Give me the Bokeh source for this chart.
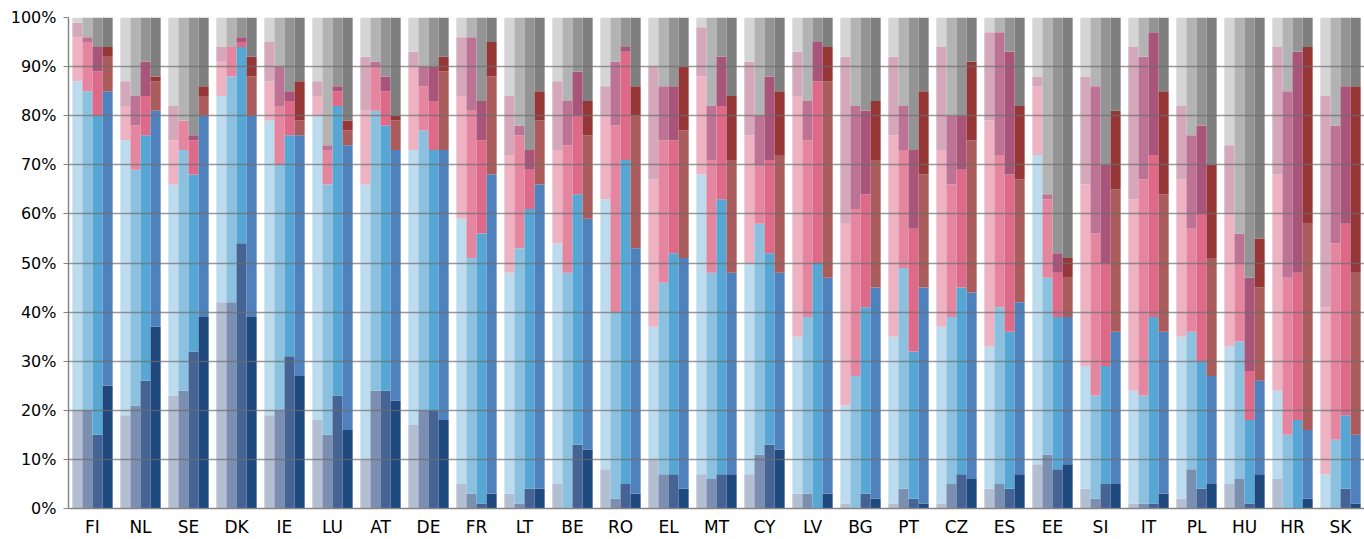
from bokeh.plotting import figure
from bokeh.models import ColumnDataSource, FactorRange, Range1d, SingleIntervalTicker, PrintfTickFormatter
from bokeh.transform import dodge
from bokeh.embed import file_html
from bokeh.resources import INLINE

countries = ["FI", "NL", "SE", "DK", "IE", "LU", "AT", "DE", "FR", "LT", "BE", "RO", "EL", "MT",
             "CY", "LV", "BG", "PT", "CZ", "ES", "EE", "SI", "IT", "PL", "HU", "HR", "SK"]
categories = ["very_good", "fairly_good", "fairly_bad", "very_bad", "dont_know"]

# Wave 1
very_good_w1 = [20, 19, 23, 42, 19, 18, 10, 17, 5, 3, 5, 8, 10, 7, 7, 3, 1, 1, 1, 4, 9, 4, 1, 2, 5, 6, 0]
fairly_good_w1 = [67, 56, 43, 42, 60, 62, 56, 56, 54, 45, 49, 55, 27, 61, 43, 32, 20, 34, 36, 29, 63, 25, 23, 33, 28, 18, 7]
fairly_bad_w1 = [9, 7, 9, 7, 8, 4, 15, 17, 25, 24, 19, 17, 30, 20, 26, 49, 37, 41, 36, 46, 14, 37, 39, 32, 27, 44, 34]
very_bad_w1 = [3, 5, 7, 3, 8, 3, 11, 3, 12, 12, 14, 6, 23, 10, 15, 9, 34, 16, 21, 18, 2, 22, 31, 15, 14, 26, 43]
dont_know_w1 = [1, 13, 18, 6, 5, 13, 8, 7, 4, 16, 13, 14, 10, 2, 9, 7, 8, 8, 6, 3, 12, 12, 6, 18, 26, 6, 16]

# Wave 2
very_good_w2 = [20, 21, 24, 42, 20, 15, 24, 20, 3, 1, 0, 2, 7, 6, 11, 3, 0, 4, 5, 5, 11, 2, 1, 8, 6, 0, 0]
fairly_good_w2 = [65, 48, 49, 46, 50, 51, 57, 57, 48, 52, 48, 38, 39, 42, 47, 36, 27, 45, 34, 36, 36, 21, 22, 28, 28, 15, 14]
fairly_bad_w2 = [10, 9, 6, 6, 12, 7, 9, 9, 30, 23, 26, 38, 29, 23, 12, 36, 34, 24, 27, 31, 16, 33, 44, 21, 16, 32, 40]
very_bad_w2 = [1, 6, 0, 0, 8, 1, 1, 4, 15, 2, 9, 13, 11, 11, 10, 8, 21, 9, 14, 25, 1, 30, 25, 19, 6, 38, 24]
dont_know_w2 = [4, 16, 21, 6, 10, 26, 9, 10, 4, 22, 17, 9, 14, 18, 20, 17, 18, 18, 20, 3, 36, 14, 8, 24, 44, 15, 22]

# Wave 3
very_good_w3 = [15, 26, 32, 54, 31, 23, 24, 20, 1, 4, 13, 5, 7, 7, 13, 0, 3, 2, 7, 4, 8, 5, 1, 4, 1, 0, 4]
fairly_good_w3 = [65, 50, 36, 40, 45, 59, 54, 53, 55, 57, 51, 66, 45, 56, 39, 50, 38, 30, 38, 32, 31, 24, 38, 26, 17, 18, 15]
fairly_bad_w3 = [9, 8, 7, 1, 7, 3, 7, 10, 19, 8, 16, 22, 23, 19, 19, 37, 23, 25, 24, 32, 9, 21, 33, 30, 10, 30, 39]
very_bad_w3 = [5, 7, 1, 1, 2, 1, 3, 7, 8, 4, 9, 1, 11, 10, 17, 8, 17, 16, 11, 25, 4, 20, 25, 18, 19, 45, 28]
dont_know_w3 = [6, 9, 24, 4, 15, 14, 12, 10, 17, 27, 11, 6, 14, 8, 12, 5, 19, 27, 20, 7, 48, 30, 3, 22, 53, 7, 14]

# Wave 4
very_good_w4 = [25, 37, 39, 39, 27, 16, 22, 18, 3, 4, 12, 3, 4, 7, 12, 3, 2, 1, 6, 7, 9, 5, 3, 5, 7, 2, 1]
fairly_good_w4 = [60, 44, 41, 41, 49, 58, 51, 55, 65, 62, 47, 50, 47, 41, 36, 44, 43, 44, 38, 35, 30, 31, 33, 22, 19, 14, 14]
fairly_bad_w4 = [7, 6, 4, 8, 3, 3, 6, 16, 20, 13, 17, 27, 26, 23, 24, 40, 26, 23, 31, 25, 8, 29, 28, 24, 19, 42, 33]
very_bad_w4 = [2, 1, 2, 4, 8, 2, 1, 3, 7, 6, 7, 6, 13, 13, 13, 7, 12, 17, 16, 15, 4, 16, 21, 19, 10, 36, 38]
dont_know_w4 = [6, 12, 14, 8, 13, 21, 20, 8, 5, 15, 17, 14, 10, 16, 15, 6, 17, 15, 9, 18, 49, 19, 15, 30, 45, 6, 14]

waves = [
    (very_good_w1, fairly_good_w1, fairly_bad_w1, very_bad_w1, dont_know_w1),
    (very_good_w2, fairly_good_w2, fairly_bad_w2, very_bad_w2, dont_know_w2),
    (very_good_w3, fairly_good_w3, fairly_bad_w3, very_bad_w3, dont_know_w3),
    (very_good_w4, fairly_good_w4, fairly_bad_w4, very_bad_w4, dont_know_w4),
]

wave_colors = [
    ["#B3BED3", "#BCDCEE", "#EEB3C2", "#D5A7BA", "#D5D5D5"],
    ["#7B8FB1", "#8BC0DF", "#E4869F", "#BD7393", "#B3B3B3"],
    ["#456394", "#57A6D3", "#DD6A89", "#A9547A", "#949494"],
    ["#1F497D", "#4F81BD", "#A95C5B", "#953736", "#7F7F7F"],
]

bar_width = 0.21
offsets = [-1.5 * bar_width, -0.5 * bar_width, 0.5 * bar_width, 1.5 * bar_width]

p = figure(
    x_range=FactorRange(factors=countries, range_padding=0),
    y_range=Range1d(0, 100),
    width=1364, height=539,
    output_backend="svg", toolbar_location=None,
    min_border_left=68, min_border_right=0, min_border_top=17, min_border_bottom=31,
)
p.outline_line_color = None
p.background_fill_color = "white"

for w, (vals, cols) in enumerate(zip(waves, wave_colors)):
    data = {"country": countries}
    for name, arr in zip(categories, vals):
        data[name] = arr
    src = ColumnDataSource(data)
    p.vbar_stack(categories, x=dodge("country", offsets[w], range=p.x_range),
                 width=bar_width, color=cols, line_color=None, source=src)

ticker = SingleIntervalTicker(interval=10)
p.yaxis.ticker = ticker
p.yaxis.formatter = PrintfTickFormatter(format="%d%%")
p.ygrid.ticker = ticker
p.ygrid.grid_line_color = "#6E6E6E"
p.ygrid.grid_line_alpha = 0.7
p.ygrid.grid_line_width = 1.5
p.ygrid.level = "overlay"
p.xgrid.visible = False

for ax in (p.xaxis, p.yaxis):
    ax.axis_line_color = "#868686"
    ax.axis_line_width = 1.5
    ax.major_tick_line_color = "#868686"
    ax.minor_tick_line_color = None
    ax.major_label_text_font = "DejaVu Sans"
    ax.major_label_text_color = "#000000"

p.yaxis.major_label_text_font_size = "16px"
p.yaxis.major_tick_out = 5
p.yaxis.major_tick_in = 0
p.yaxis.major_label_standoff = 7

p.xaxis.major_label_text_font_size = "17px"
p.xaxis.major_tick_line_color = None
p.xaxis.major_label_standoff = 2

open("out.html", "w").write(file_html(p, INLINE))
